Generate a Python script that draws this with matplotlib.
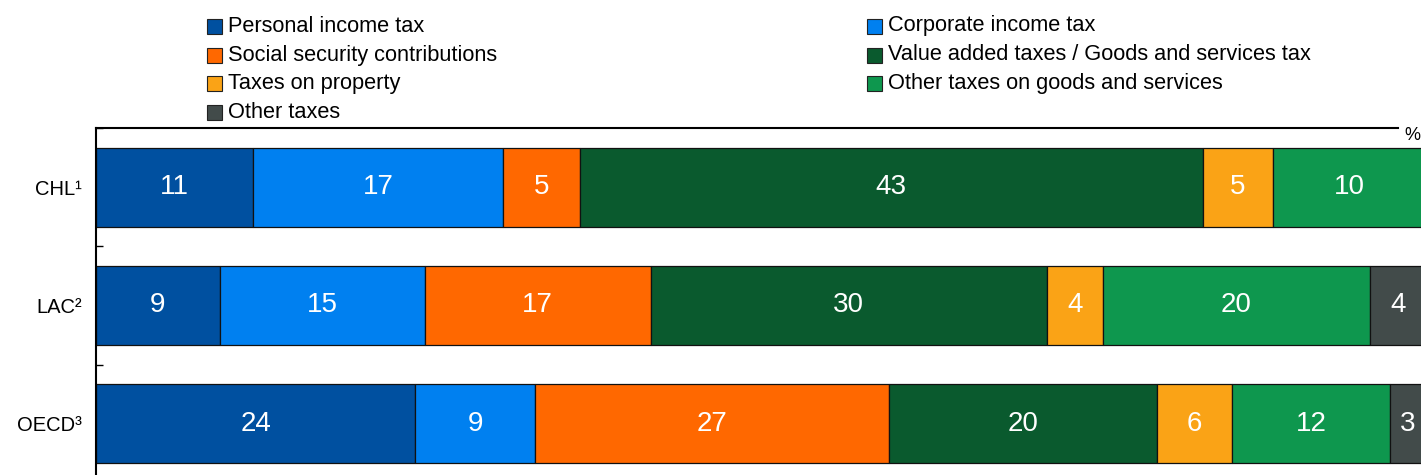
import matplotlib
matplotlib.use("Agg")
import matplotlib.pyplot as plt
from matplotlib.patches import Rectangle
from matplotlib.lines import Line2D
import numpy as np

plt.rcParams['font.family'] = ['Liberation Sans', 'DejaVu Sans']

# ---- data ----
categories = ["CHL\u00b9", "LAC\u00b2", "OECD\u00b3"]
series_names = ["Personal income tax", "Corporate income tax",
                "Social security contributions",
                "Value added taxes / Goods and services tax",
                "Taxes on property", "Other taxes on goods and services",
                "Other taxes"]
colors = ["#0050A0", "#0080F0", "#FF6800", "#0A5A2E", "#FAA316", "#0E974E", "#424B4A"]

# bar lengths (share of total, %) as drawn
personal_income = [11.8, 9.3, 24.0]
corporate_income = [18.8, 15.4, 9.0]
social_security = [5.8, 17.0, 26.6]
vat_gst = [46.8, 29.8, 20.2]
property_tax = [5.3, 4.2, 5.6]
other_goods_services = [11.5, 20.1, 11.9]
other_taxes = [0.0, 4.2, 3.0]

# printed labels
lbl_personal_income = ["11", "9", "24"]
lbl_corporate_income = ["17", "15", "9"]
lbl_social_security = ["5", "17", "27"]
lbl_vat_gst = ["43", "30", "20"]
lbl_property_tax = ["5", "4", "6"]
lbl_other_goods_services = ["10", "20", "12"]
lbl_other_taxes = ["", "4", "3"]

series_values = [personal_income, corporate_income, social_security, vat_gst,
                 property_tax, other_goods_services, other_taxes]
series_labels = [lbl_personal_income, lbl_corporate_income, lbl_social_security,
                 lbl_vat_gst, lbl_property_tax, lbl_other_goods_services,
                 lbl_other_taxes]

# ---- figure ----
W, H = 1421, 475
fig = plt.figure(figsize=(W / 100, H / 100), dpi=100)

ax_left, ax_right = 96, 1426
ax_top, ax_bottom = 128, 482.75
ax = fig.add_axes([ax_left / W, 1 - ax_bottom / H,
                   (ax_right - ax_left) / W, (ax_bottom - ax_top) / H])

y = np.arange(len(categories))
left = np.zeros(len(categories))
for vals, labs, col, name in zip(series_values, series_labels, colors, series_names):
    bars = ax.barh(y, vals, left=left, height=0.667, color=col,
                   edgecolor="#111111", linewidth=0.9, label=name, clip_on=True)
    ax.bar_label(bars, labels=labs, label_type="center", color="white",
                 fontsize=20)
    left += np.array(vals)

ax.set_xlim(0, 100)
ax.set_ylim(2.5, -0.5)
ax.set_yticks(y)
ax.set_yticklabels(categories, fontsize=14.5)
ax.tick_params(axis="y", which="major", length=0, pad=10)
ax.set_yticks([-0.5, 0.5, 1.5, 2.5], minor=True)
ax.tick_params(axis="y", which="minor", direction="in", length=5, width=1)
ax.set_xticks([])

for s in ["top", "right", "bottom"]:
    ax.spines[s].set_visible(False)
ax.spines["left"].set_linewidth(1.5)

# shortened top frame line and unit label
top_end = (1398 - ax_left) / (ax_right - ax_left)
ax.add_line(Line2D([0, top_end], [1, 1], transform=ax.transAxes,
                   color="black", linewidth=1.5, clip_on=False))
ax.text((1412 - ax_left) / (ax_right - ax_left), 0.979, "%",
        transform=ax.transAxes, ha="center", va="center", fontsize=13)

# ---- legend (manual, two columns, row-major order) ----
col_x = [207, 867]
row_y = [26, 55, 83, 112]
sq = 15
for i, (name, col) in enumerate(zip(series_names, colors)):
    c = i % 2
    r = i // 2
    x0 = col_x[c]
    yc = row_y[r]
    fig.patches.append(Rectangle((x0 / W, 1 - (yc + sq / 2) / H), sq / W, sq / H,
                                 transform=fig.transFigure, facecolor=col,
                                 edgecolor="#222222", linewidth=0.8))
    fig.text((x0 + sq + 6) / W, 1 - yc / H, name, ha="left", va="center",
             fontsize=15.7)

fig.savefig("out.png", dpi=100)
